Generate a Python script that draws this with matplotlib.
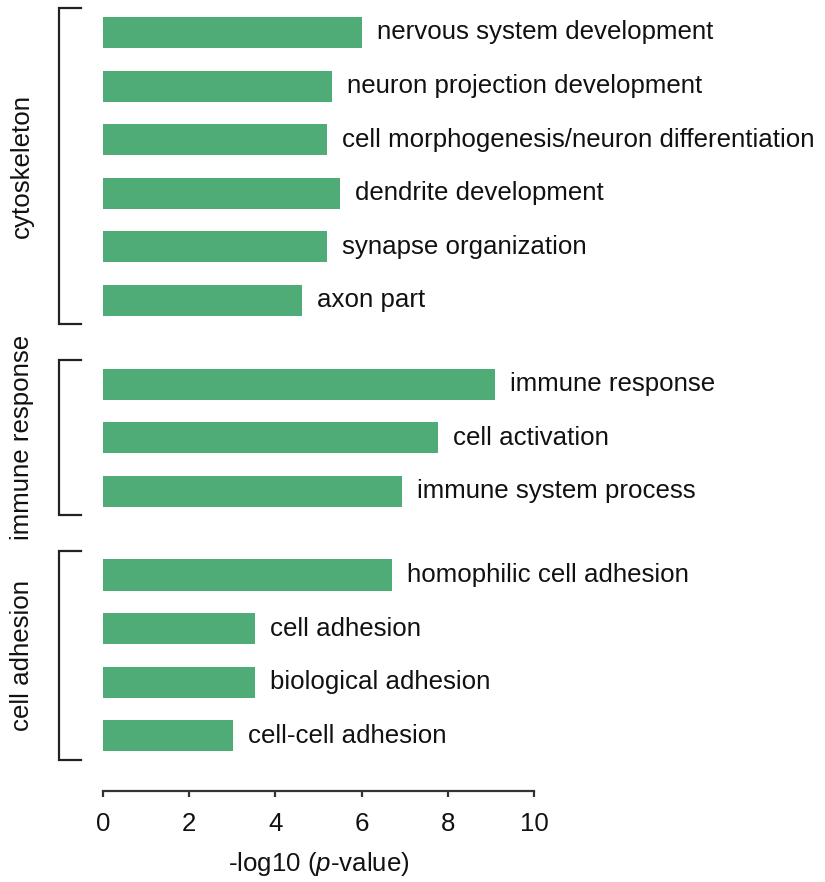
import numpy as np
import matplotlib
matplotlib.use('Agg')
import matplotlib.pyplot as plt

plt.rcParams['font.family'] = ['Liberation Sans', 'DejaVu Sans']
plt.rcParams['mathtext.fontset'] = 'custom'
plt.rcParams['mathtext.rm'] = 'Liberation Sans'
plt.rcParams['mathtext.it'] = 'Liberation Sans:italic'

# GO terms, grouped
groups = ['cytoskeleton', 'immune response', 'cell adhesion']
terms = [
    ['nervous system development', 'neuron projection development',
     'cell morphogenesis/neuron differentiation', 'dendrite development',
     'synapse organization', 'axon part'],
    ['immune response', 'cell activation', 'immune system process'],
    ['homophilic cell adhesion', 'cell adhesion', 'biological adhesion',
     'cell-cell adhesion'],
]
values = [
    [6.0, 5.31, 5.2, 5.5, 5.2, 4.62],
    [9.1, 7.77, 6.94],
    [6.7, 3.53, 3.53, 3.02],
]

bar_color = '#50ac77'
group_gap = 1.565
fs = 18.6

fig = plt.figure(figsize=(8.25, 8.82), dpi=100)
ax = fig.add_axes([103 / 825, 91 / 882, 431 / 825, 781 / 882])

pos = 0.0
for g, (name, tt, vv) in enumerate(zip(groups, terms, values)):
    ys = pos + np.arange(len(tt))
    ax.barh(ys, vv, height=0.58, color=bar_color, edgecolor='none')
    for y, v, t in zip(ys, vv, tt):
        ax.annotate(t, (v, y), xytext=(11, 0), textcoords='offset points',
                    va='center', ha='left', fontsize=fs, color='#111111',
                    annotation_clip=False)
    # bracket on the left
    top, bot = ys[0] - 0.45, ys[-1] + 0.45
    ax.plot([-0.52, -1.02, -1.02, -0.52], [top, top, bot, bot],
            color='#222222', lw=1.6, clip_on=False, solid_joinstyle='miter')
    ax.text(-1.88, (top + bot) / 2, name, rotation=90, ha='center',
            va='center', fontsize=fs, color='#111111')
    pos = ys[-1] + group_gap

ax.set_xlim(0, 10)
ax.set_ylim(14.164, -0.42)
ax.set_xticks([0, 2, 4, 6, 8, 10])
ax.set_yticks([])
for s in ['top', 'right', 'left']:
    ax.spines[s].set_visible(False)
ax.spines['bottom'].set_color('#333333')
ax.spines['bottom'].set_linewidth(1.6)
ax.spines['bottom'].set_bounds(0, 10)
ax.tick_params(axis='x', length=4, width=1.6, color='#333333',
               labelsize=fs, pad=11, labelcolor='#111111')
ax.set_xlabel(r'-log10 ($\it{p}$-value)', fontsize=fs, labelpad=10,
              color='#111111')

fig.savefig('out.png', dpi=100)
